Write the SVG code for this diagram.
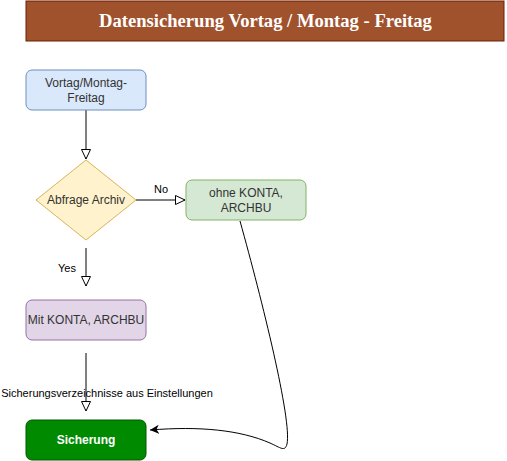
<svg xmlns="http://www.w3.org/2000/svg" width="507" height="461" viewBox="0 0 507 461">
<style>
.t{font-family:"Liberation Sans",Arial,sans-serif;font-size:12px;fill:#333;text-anchor:middle}
.lbl{font-family:"Liberation Sans",Arial,sans-serif;font-size:11px;fill:#000;text-anchor:middle}
.e{fill:none;stroke:#000;stroke-width:1}
</style>
<defs>
<marker id="open" markerWidth="12" markerHeight="12" refX="10" refY="5" orient="auto" markerUnits="userSpaceOnUse" viewBox="0 0 12 12">
<path d="M0.5,0.5 L10,5 L0.5,9.5 Z" fill="#fff" stroke="#000" stroke-width="1"/>
</marker>
<marker id="classic" markerWidth="12" markerHeight="12" refX="9" refY="4.5" orient="auto" markerUnits="userSpaceOnUse" viewBox="0 0 12 12">
<path d="M0,0 L9,4.5 L0,9 L2.5,4.5 Z" fill="#000"/>
</marker>
</defs>
<rect width="507" height="461" fill="#fff"/>
<g id="title">
<rect x="26" y="1" width="478" height="40" fill="#a0522d" stroke="#6d1f00"/>
<text x="265.5" y="27" font-family="'Liberation Serif','Times New Roman',serif" font-size="18.6" font-weight="bold" fill="#fff" text-anchor="middle">Datensicherung Vortag / Montag - Freitag</text>
</g>
<g id="edges">
<path class="e" d="M86,110 L86,159" marker-end="url(#open)"/>
<path class="e" d="M136,200 L185,200" marker-end="url(#open)"/>
<path class="e" d="M86,248 L86,286" marker-end="url(#open)"/>
<path class="e" d="M86,353 L86,411" marker-end="url(#open)"/>
<path class="e" d="M240,221 C262,300 292,420 287,444 C285,452 281,448 270,443 C240,430 200,426 150,430" marker-end="url(#classic)"/>
<text class="lbl" x="161" y="193">No</text>
<text class="lbl" x="67" y="272">Yes</text>
<text class="lbl" x="107" y="397">Sicherungsverzeichnisse aus Einstellungen</text>
</g>
<g id="start">
<rect x="26" y="70" width="120" height="40" rx="6" fill="#dae8fc" stroke="#6c8ebf"/>
<text class="t" x="86" y="87">Vortag/Montag-</text>
<text class="t" x="86" y="102">Freitag</text>
</g>
<g id="decision">
<path d="M86,160 L136,200 L86,240 L36,200 Z" fill="#fff2cc" stroke="#d6b656"/>
<text class="t" x="86" y="204">Abfrage Archiv</text>
</g>
<g id="ohne">
<rect x="186" y="180" width="120" height="40" rx="6" fill="#d5e8d4" stroke="#82b366"/>
<text class="t" x="246" y="197">ohne KONTA,</text>
<text class="t" x="246" y="212">ARCHBU</text>
</g>
<g id="mit">
<rect x="26" y="300" width="120" height="40" rx="6" fill="#e1d5e7" stroke="#9673a6"/>
<text class="t" x="86" y="324">Mit KONTA, ARCHBU</text>
</g>
<g id="sicherung">
<rect x="26" y="420" width="120" height="40" rx="6" fill="#008a00" stroke="#005700"/>
<text class="t" x="86" y="444" style="fill:#fff;font-weight:bold">Sicherung</text>
</g>
</svg>
